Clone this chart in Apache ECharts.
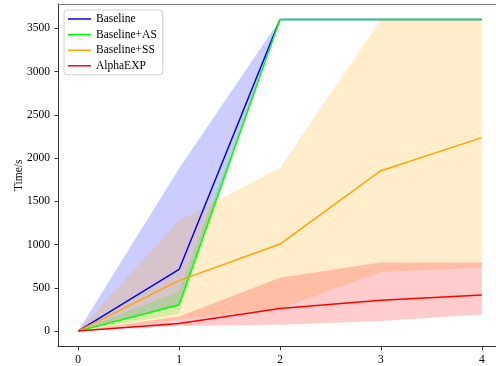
<!DOCTYPE html>
<html><head><meta charset="utf-8">
<script src="https://cdn.jsdelivr.net/npm/echarts@6/dist/echarts.min.js"></script>
<style>html,body{margin:0;padding:0;background:#fff}#c{width:496px;height:366px}</style>
</head><body><div id="c"></div>
<script>
const xs = [0, 1, 2, 3, 4];
const xTicks = [0, 1, 2, 3, 4];
const yTicks = [0, 500, 1000, 1500, 2000, 2500, 3000, 3500];

const baseline     = [0, 713, 3600, 3600, 3600];
const baselineLow  = [0, 290, 3600, 3600, 3600];
const baselineHigh = [0, 1880, 3600, 3600, 3600];

const baselineAS     = [0, 305, 3600, 3600, 3600];
const baselineASLow  = [0, 200, 3600, 3600, 3600];
const baselineASHigh = [0, 460, 3600, 3600, 3600];

const baselineSS     = [0, 583, 1006, 1854, 2236];
const baselineSSLow  = [0, 135, 262, 682, 736];
const baselineSSHigh = [0, 1278, 1889, 3600, 3600];

const alphaEXP     = [0, 89, 262, 356, 416];
const alphaEXPLow  = [0, 58, 74, 116, 193];
const alphaEXPHigh = [0, 170, 617, 794, 794];

const names = ['Baseline', 'Baseline+AS', 'Baseline+SS', 'AlphaEXP'];
const colors = ['#0000ff', '#00ff00', '#ffa500', '#ff0000'];
const mids = [baseline, baselineAS, baselineSS, alphaEXP];
const lows = [baselineLow, baselineASLow, baselineSSLow, alphaEXPLow];
const highs = [baselineHigh, baselineASHigh, baselineSSHigh, alphaEXPHigh];

const font = 'Liberation Serif';
const series = [];
names.forEach((n, i) => {
  series.push({
    type: 'custom', name: n + ' band', silent: true, z: 1 + i,
    data: [[0, 0]],
    renderItem: function (params, api) {
      const pts = [];
      xs.forEach((x, k) => pts.push(api.coord([x, highs[i][k]])));
      for (let k = xs.length - 1; k >= 0; k--) pts.push(api.coord([xs[k], lows[i][k]]));
      return { type: 'polygon', shape: { points: pts }, style: { fill: colors[i], opacity: 0.2 } };
    }
  });
});
names.forEach((n, i) => {
  series.push({
    type: 'line', name: n, z: 10 + i, symbol: 'none', showSymbol: false,
    data: xs.map((x, k) => [x, mids[i][k]]),
    lineStyle: { color: colors[i], width: 1.5 }, itemStyle: { color: colors[i] },
    emphasis: { disabled: true }
  });
});

const chart = echarts.init(document.getElementById('c'), null, { renderer: 'canvas' });
chart.setOption({
  animation: false,
  backgroundColor: '#fff',
  grid: { left: 58, top: 4, right: -6, bottom: 19.3, containLabel: false, outerBoundsMode: 'none' },
  legend: {
    data: names, orient: 'vertical', left: 64, top: 10,
    icon: 'rect', itemWidth: 23, itemHeight: 1.5, itemGap: 2.6,
    padding: [2.5, 6, 2.5, 4],
    backgroundColor: '#fff', borderColor: '#d0d0d0', borderWidth: 1, borderRadius: 3,
    textStyle: { fontFamily: font, fontSize: 11.5, color: '#000', lineHeight: 13 },
    selectedMode: false
  },
  xAxis: [{
    type: 'value', min: -0.2, max: 4.2, splitLine: { show: false },
    axisLine: { show: true, onZero: false, lineStyle: { color: '#333', width: 1 } },
    axisTick: { show: true, length: 3.5, customValues: xTicks, lineStyle: { color: '#333' } },
    axisLabel: { customValues: xTicks, margin: 7, fontFamily: font, fontSize: 11.5, color: '#000',
      formatter: v => String(v) }
  }, {
    type: 'value', position: 'top', min: -0.2, max: 4.2, splitLine: { show: false },
    axisLine: { show: true, onZero: false, lineStyle: { color: '#808080', width: 1.2 } },
    axisTick: { show: false }, axisLabel: { show: false }
  }],
  yAxis: {
    type: 'value', min: -180, max: 3780, splitLine: { show: false },
    name: 'Time/s', nameLocation: 'middle', nameGap: 33, nameRotate: 90, nameMoveOverlap: false,
    nameTextStyle: { fontFamily: font, fontSize: 11.5, color: '#000' },
    axisLine: { show: true, onZero: false, lineStyle: { color: '#333', width: 1 } },
    axisTick: { show: true, length: 3.5, customValues: yTicks, lineStyle: { color: '#333' } },
    axisLabel: { customValues: yTicks, margin: 8, fontFamily: font, fontSize: 11.5, color: '#000',
      formatter: v => String(v) }
  },
  series: series
});
</script></body></html>
